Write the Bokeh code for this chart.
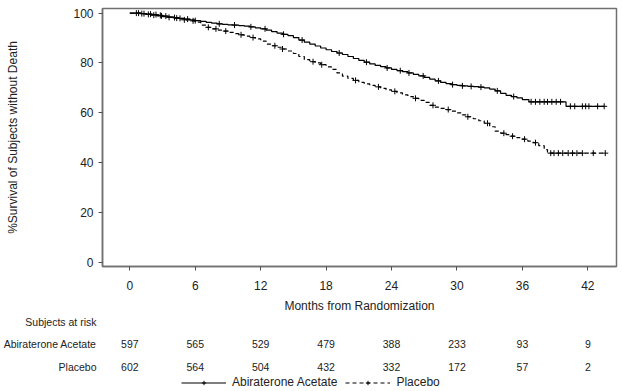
import numpy as np
from bokeh.plotting import figure
from bokeh.layouts import column
from bokeh.models import Range1d, FixedTicker, Legend, LegendItem
from bokeh.embed import file_html
from bokeh.resources import INLINE
from bokeh.core.properties import value

FONT = "Liberation Sans"
TXT = "#222222"

# ---- data ----
abi_t = [0, 0.5, 1.0, 1.5, 2.0, 2.5, 3.0, 3.5, 4.0, 4.5, 5.0, 5.5, 6.0, 6.5, 7.0, 7.5, 8.0, 8.5,
         9.0, 9.5, 10.0, 10.5, 11.0, 11.5, 12.0, 12.5, 13.0, 13.5, 14.0, 14.5, 15.0, 15.5, 16.0,
         16.5, 17.0, 17.5, 18.0, 18.5, 19.0, 19.5, 20.0, 20.5, 21.0, 21.5, 22.0, 22.5, 23.0, 23.5,
         24.0, 24.5, 25.0, 25.5, 26.0, 26.5, 27.0, 27.5, 28.0, 28.5, 29.0, 29.5, 30.0, 30.5, 31.0,
         31.5, 32.0, 32.5, 33.0, 33.5, 34.0, 34.5, 35.0, 35.5, 36.0, 36.6, 40.0, 43.5]
abi_s = [100, 100, 99.8, 99.6, 99.4, 99.1, 98.8, 98.5, 98.2, 97.9, 97.6, 97.3, 97.0, 96.7, 96.3,
         96.0, 95.7, 95.5, 95.3, 95.2, 95.0, 94.8, 94.5, 94.1, 93.7, 93.2, 92.6, 92.0, 91.5, 91.0,
         90.2, 89.2, 88.4, 87.6, 86.8, 86.0, 85.3, 84.6, 84.0, 83.4, 82.6, 81.8, 81.0, 80.3, 79.6,
         79.0, 78.5, 78.0, 77.4, 76.9, 76.5, 76.0, 75.4, 74.8, 74.2, 73.5, 72.8, 72.2, 71.7, 71.3,
         71.0, 70.8, 70.6, 70.5, 70.3, 70.0, 69.5, 68.8, 67.8, 67.0, 66.5, 66.0, 65.3, 64.4, 62.6,
         62.6]

pla_t = [0, 0.5, 1.0, 1.5, 2.0, 2.5, 3.0, 3.5, 4.0, 4.5, 5.0, 5.5, 6.0, 6.5, 7.0, 7.5, 8.0, 8.5,
         9.0, 9.5, 10.0, 10.5, 11.0, 11.5, 12.0, 12.5, 13.0, 13.5, 14.0, 14.5, 15.0, 15.5, 16.0,
         16.5, 17.0, 17.5, 18.0, 18.5, 19.0, 19.5, 20.0, 20.5, 21.0, 21.5, 22.0, 22.5, 23.0, 23.5,
         24.0, 24.5, 25.0, 25.5, 26.0, 26.5, 27.0, 27.5, 28.0, 28.5, 29.0, 29.5, 30.0, 30.5, 31.0,
         31.5, 32.0, 32.5, 33.0, 33.5, 34.0, 34.5, 35.0, 35.5, 36.0, 36.5, 37.0, 37.5, 38.0, 38.3,
         43.6]
pla_s = [100, 100, 99.8, 99.5, 99.2, 98.9, 98.6, 98.3, 98.0, 97.7, 97.3, 96.9, 96.4, 95.2, 94.3,
         93.7, 93.2, 92.8, 92.3, 91.8, 91.3, 90.8, 90.2, 89.7, 88.8, 87.6, 86.9, 86.3, 85.6, 84.8,
         83.8, 82.6, 81.3, 80.5, 80.0, 79.3, 78.4, 77.4, 76.0, 74.7, 73.8, 73.0, 72.2, 71.6, 71.0,
         70.4, 69.8, 69.2, 68.6, 68.0, 67.2, 66.5, 65.8, 65.0, 64.2, 63.0, 62.3, 61.8, 61.3, 60.7,
         60.0, 59.2, 58.4, 57.6, 56.8, 55.8, 54.4, 52.6, 51.8, 51.2, 50.6, 50.0, 49.4, 48.6, 48.0,
         46.8, 45.2, 43.8, 43.8]

abi_cens = [0.8, 1.3, 1.9, 2.4, 2.8, 3.3, 4.1, 4.6, 5.3, 6.0, 8.2, 9.6, 11.1, 12.4, 14.1, 15.8,
            19.2, 21.7, 23.6, 24.8, 25.6, 26.9, 28.3, 29.6, 30.5, 31.3, 32.2, 33.7, 35.2, 36.8,
            37.2, 37.6, 38.0, 38.3, 38.7, 39.1, 39.5, 40.4, 40.8, 41.5, 41.8, 42.1, 42.9, 43.5]
pla_cens = [0.6, 1.1, 1.7, 2.2, 2.9, 3.6, 4.3, 5.0, 5.8, 7.2, 7.9, 8.8, 10.2, 11.3, 13.3, 14.0,
            16.8, 17.6, 20.7, 22.8, 24.3, 26.2, 27.8, 29.2, 31.0, 32.8, 34.3, 35.1, 36.2, 37.2,
            38.6, 38.9, 39.3, 39.7, 40.2, 40.6, 41.0, 41.5, 42.5, 43.6]

risk_months = [0, 6, 12, 18, 24, 30, 36, 42]
abi_risk = ["597", "565", "529", "479", "388", "233", "93", "9"]
pla_risk = ["602", "564", "504", "432", "332", "172", "57", "2"]

x_ticks = [0, 6, 12, 18, 24, 30, 36, 42]
y_ticks = [0, 20, 40, 60, 80, 100]


def km_at(t, s, c):
    idx = np.searchsorted(np.array(t), np.array(c), side="right") - 1
    return list(np.array(s)[idx])


def draw_curves(fig, **kw):
    a1 = fig.step(abi_t, abi_s, mode="after", line_color="black", line_width=1.2, **kw)
    a2 = fig.scatter(abi_cens, km_at(abi_t, abi_s, abi_cens), marker="cross", size=6,
                     line_color="black", line_width=1, **kw)
    b1 = fig.step(pla_t, pla_s, mode="after", line_color="black", line_width=1.2,
                  line_dash="4 3", **kw)
    b2 = fig.scatter(pla_cens, km_at(pla_t, pla_s, pla_cens), marker="cross", size=6,
                     line_color="black", line_width=1, **kw)
    return a1, a2, b1, b2


# ---- main plot ----
xr = Range1d(-2.505, 44.63)
p = figure(width=618, height=315, x_range=xr, y_range=Range1d(-1.70, 101.86),
           output_backend="svg", toolbar_location=None,
           min_border_left=102, min_border_right=2, min_border_top=8, min_border_bottom=45)
p.grid.visible = False
p.outline_line_color = "#707070"
p.outline_line_width = 1.5
p.background_fill_color = "white"
p.border_fill_color = "white"

draw_curves(p)

for ax in (p.xaxis[0], p.yaxis[0]):
    ax.axis_line_color = "#707070"
    ax.axis_line_width = 1.5
    ax.major_tick_line_color = "#505050"
    ax.major_tick_out = 4
    ax.major_tick_in = 0
    ax.minor_tick_line_color = None
    ax.major_label_text_font = FONT
    ax.major_label_text_font_size = "12px"
    ax.major_label_text_color = TXT
    ax.axis_label_text_font = FONT
    ax.axis_label_text_font_size = "12px"
    ax.axis_label_text_font_style = "normal"
    ax.axis_label_text_color = TXT

p.xaxis.ticker = FixedTicker(ticks=x_ticks)
p.yaxis.ticker = FixedTicker(ticks=y_ticks)
p.xaxis.axis_label = "Months from Randomization"
p.yaxis.axis_label = "%Survival of Subjects without Death"
p.xaxis.major_label_standoff = 10
p.xaxis.axis_label_standoff = 6
p.yaxis.major_label_standoff = 5
p.yaxis.axis_label_standoff = 50

# ---- risk table + legend ----
t = figure(width=618, height=74, x_range=xr, y_range=Range1d(74, 0),
           output_backend="svg", toolbar_location=None, x_axis_location=None,
           min_border_left=102, min_border_right=2, min_border_top=0, min_border_bottom=0)
t.grid.visible = False
t.outline_line_color = None
t.background_fill_color = "white"
t.border_fill_color = "white"
ya = t.yaxis[0]
ya.ticker = FixedTicker(ticks=[6, 28, 51])
ya.major_label_overrides = {6: "Subjects at risk", 28: "Abiraterone Acetate", 51: "Placebo"}
ya.axis_line_color = None
ya.major_tick_line_color = None
ya.minor_tick_line_color = None
ya.major_tick_out = 0
ya.major_tick_in = 0
ya.major_label_standoff = 6
ya.major_label_text_font = FONT
ya.major_label_text_font_size = "10.5px"
ya.major_label_text_color = TXT

t.text(x=risk_months, y=[28] * len(risk_months), text=abi_risk, text_align="center",
       text_baseline="middle", text_font=value(FONT), text_font_size="10.5px", text_color=TXT)
t.text(x=risk_months, y=[51] * len(risk_months), text=pla_risk, text_align="center",
       text_baseline="middle", text_font=value(FONT), text_font_size="10.5px", text_color=TXT)

# curves drawn again on a hidden range of the table panel, only to feed the legend
t.extra_y_ranges = {"hidden": Range1d(1000, 2000)}
a1, a2, b1, b2 = draw_curves(t, y_range_name="hidden")
leg = Legend(items=[LegendItem(label="Abiraterone Acetate", renderers=[a1, a2]),
                    LegendItem(label="Placebo", renderers=[b1, b2])],
             orientation="horizontal", location=(79, 0), glyph_width=45, glyph_height=11,
             label_height=11, label_standoff=6, spacing=8, padding=0, margin=0,
             border_line_color=None, background_fill_alpha=0,
             label_text_font=FONT, label_text_font_size="12px", label_text_color=TXT)
t.add_layout(leg)

layout = column(p, t, spacing=0)
open("out.html", "w").write(file_html(layout, INLINE))
